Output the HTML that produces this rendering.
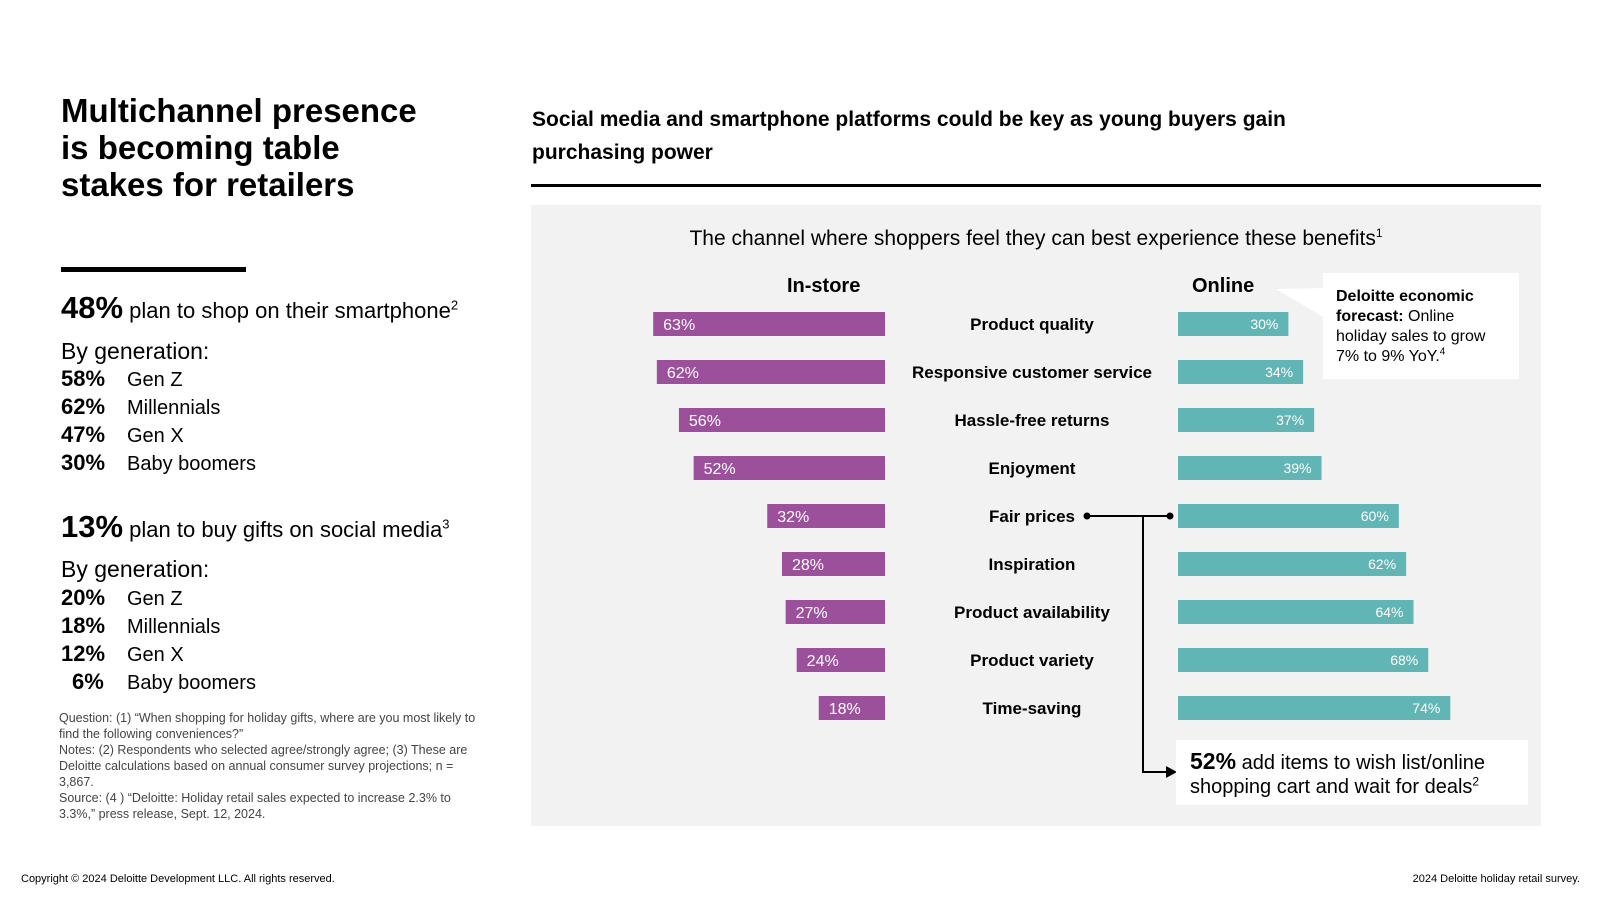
<!DOCTYPE html>
<html><head><meta charset="utf-8"><style>
body{margin:0;width:1600px;height:900px;background:#fff;position:relative;overflow:hidden;font-family:"Liberation Sans",sans-serif;color:#000}
.a{position:absolute;white-space:nowrap}
sup{line-height:0;vertical-align:super}
.row{position:absolute;left:61px;font-size:20px}
.row b{display:inline-block;width:66px;font-size:22px}
</style></head><body>
<div class="a" style="left:61px;top:92px;font-size:33px;font-weight:bold;line-height:37px">Multichannel presence<br>is becoming table<br>stakes for retailers</div>
<div class="a" style="left:61px;top:267px;width:185px;height:5px;background:#000"></div>
<div class="a" style="left:61px;top:290px;font-size:22px"><b style="font-size:31px">48%</b> plan to shop on their smartphone<sup style="font-size:13px">2</sup></div>
<div class="a" style="left:61px;top:338px;font-size:23px">By generation:</div>
<div class="row" style="top:366px"><b>58%</b>Gen Z</div>
<div class="row" style="top:394px"><b>62%</b>Millennials</div>
<div class="row" style="top:422px"><b>47%</b>Gen X</div>
<div class="row" style="top:450px"><b>30%</b>Baby boomers</div>
<div class="a" style="left:61px;top:509px;font-size:22px"><b style="font-size:31px">13%</b> plan to buy gifts on social media<sup style="font-size:13px">3</sup></div>
<div class="a" style="left:61px;top:556px;font-size:23px">By generation:</div>
<div class="row" style="top:585px"><b>20%</b>Gen Z</div>
<div class="row" style="top:613px"><b>18%</b>Millennials</div>
<div class="row" style="top:641px"><b>12%</b>Gen X</div>
<div class="row" style="top:669px"><b style="text-indent:11px">6%</b>Baby boomers</div>
<div class="a" style="left:59px;top:710px;font-size:12.5px;line-height:16px;color:#444;white-space:normal;width:430px">Question: (1) “When shopping for holiday gifts, where are you most likely to find the following conveniences?”<br>Notes: (2) Respondents who selected agree/strongly agree; (3) These are Deloitte calculations based on annual consumer survey projections; n = 3,867.<br>Source: (4 ) “Deloitte: Holiday retail sales expected to increase 2.3% to 3.3%,” press release, Sept. 12, 2024.</div>
<div class="a" style="left:21px;top:873px;font-size:11px">Copyright © 2024 Deloitte Development LLC. All rights reserved.</div>
<div class="a" style="right:20px;top:873px;font-size:11px">2024 Deloitte holiday retail survey.</div>

<div class="a" style="left:532px;top:103px;font-size:21px;font-weight:bold;line-height:33px">Social media and smartphone platforms could be key as young buyers gain<br>purchasing power</div>
<div class="a" style="left:531px;top:184px;width:1010px;height:3px;background:#000"></div>
<div class="a" style="left:531px;top:205px;width:1010px;height:621px;background:#f2f2f2"></div>
<div class="a" style="left:531px;width:1010px;text-align:center;top:227px;font-size:21px">The channel where shoppers feel they can best experience these benefits<sup style="font-size:12px">1</sup></div>
<div class="a" style="left:787px;top:275px;font-size:20px;font-weight:bold">In-store</div>
<div class="a" style="left:1192px;top:275px;font-size:20px;font-weight:bold">Online</div>

<svg class="a" style="left:0;top:0" width="1600" height="900" id="chart"></svg>

<svg class="a" style="left:0;top:0" width="1600" height="900"><polygon points="1276,289 1325,288 1325,318" fill="#fff"/></svg>
<div class="a" style="left:1323px;top:273px;width:196px;height:106px;background:#fff"></div>
<div class="a" style="left:1336px;top:287px;font-size:16px;line-height:20px"><b>Deloitte economic<br>forecast:</b> Online<br>holiday sales to grow<br>7% to 9% YoY.<sup style="font-size:10px">4</sup></div>
<div class="a" style="left:1176px;top:740px;width:352px;height:65px;background:#fff"></div>
<div class="a" style="left:1190px;top:749px;font-size:20px;line-height:24px"><b style="font-size:23px">52%</b> add items to wish list/online<br>shopping cart and wait for deals<sup style="font-size:12px">2</sup></div>

<script>
const categories=["Product quality","Responsive customer service","Hassle-free returns","Enjoyment","Fair prices","Inspiration","Product availability","Product variety","Time-saving"];
const instoreValues=[63,62,56,52,32,28,27,24,18];
const onlineValues=[30,34,37,39,60,62,64,68,74];
const svg=document.getElementById('chart');
const NS='http://www.w3.org/2000/svg';
const pxPerPct=3.68, inRight=885, onLeft=1178, rowTop=324, rowPitch=48, barH=24;
const yCenter=i=>rowTop+i*rowPitch;
const xLen=v=>v*pxPerPct;
function mk(tag,attrs){const e=document.createElementNS(NS,tag);for(const k in attrs)e.setAttribute(k,attrs[k]);svg.appendChild(e);return e;}
categories.forEach((c,i)=>{
  const y=yCenter(i);
  const r1=mk('rect',{x:inRight-xLen(instoreValues[i]),y:y-barH/2,width:xLen(instoreValues[i]),height:barH,fill:'#9c509c'});
  
  
  const t1=mk('text',{x:inRight-xLen(instoreValues[i])+10,y:y+6,fill:'#fff','font-size':16,'font-family':'Liberation Sans'});
  t1.textContent=instoreValues[i]+'%';
  
  
  const r2=mk('rect',{x:onLeft,y:y-barH/2,width:xLen(onlineValues[i]),height:barH,fill:'#62b5b5'});
  
  
  const t2=mk('text',{x:onLeft+xLen(onlineValues[i])-10,y:y+5,fill:'#fff','font-size':14,'text-anchor':'end','font-family':'Liberation Sans'});
  t2.textContent=onlineValues[i]+'%';
  
  
  const l=mk('text',{x:1032,y:y+6,'font-size':17,'font-weight':'bold','text-anchor':'middle','font-family':'Liberation Sans'});
  l.textContent=categories[i];
  
  
});
const fy=yCenter(4);
const conn=mk('path',{d:`M1087 ${fy} H1170 M1143 ${fy} V772 H1168`,stroke:'#000','stroke-width':2,fill:'none'});


mk('circle',{cx:1087,cy:fy,r:3.5,fill:'#000'});
mk('circle',{cx:1170,cy:fy,r:3.5,fill:'#000'});
const arr=mk('polygon',{points:`1166,766 1177,772 1166,778`,fill:'#000'});


</script>
</body></html>
